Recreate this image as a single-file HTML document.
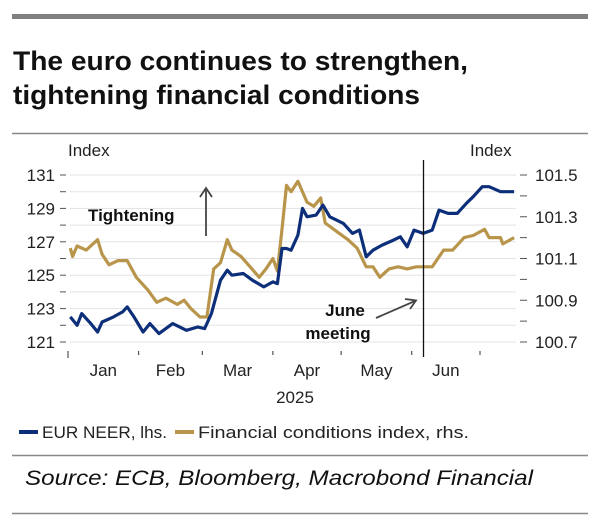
<!DOCTYPE html>
<html><head><meta charset="utf-8"><style>
html,body{margin:0;padding:0;background:#fff;}
svg{display:block;font-family:"Liberation Sans",sans-serif;}
</style></head><body>
<svg id="c" width="600" height="527" viewBox="0 0 600 527">
<rect x="12" y="14" width="576" height="5" fill="#808080"/>
<text x="13" y="70" font-size="27" font-weight="bold" fill="#111" textLength="455" lengthAdjust="spacingAndGlyphs">The euro continues to strengthen,</text>
<text x="13" y="104" font-size="27" font-weight="bold" fill="#111" textLength="407" lengthAdjust="spacingAndGlyphs">tightening financial conditions</text>
<line x1="12" y1="133.5" x2="588" y2="133.5" stroke="#888" stroke-width="1.5"/>
<text x="68" y="156" font-size="17" fill="#222">Index</text>
<text x="470" y="156" font-size="17" fill="#222">Index</text>
<g id="grid"></g><g id="axes"></g><g id="series"></g>
<line x1="423.5" y1="160" x2="423.5" y2="357" stroke="#111" stroke-width="1.3"/>
<text x="88" y="221" font-size="17" font-weight="bold" fill="#111">Tightening</text>
<line x1="206" y1="236" x2="206" y2="190" stroke="#444" stroke-width="1.8"/>
<path d="M200,197 L206,188 L212,197" fill="none" stroke="#444" stroke-width="1.8"/>
<text x="345" y="316" font-size="17" font-weight="bold" fill="#111" text-anchor="middle">June</text>
<text x="338" y="339" font-size="17" font-weight="bold" fill="#111" text-anchor="middle">meeting</text>
<line x1="376" y1="318" x2="415" y2="301" stroke="#444" stroke-width="1.8"/>
<path d="M405,299 L416,300.5 L410,309" fill="none" stroke="#444" stroke-width="1.8"/>
<text x="295" y="403" font-size="17" fill="#222" text-anchor="middle">2025</text>
<rect x="19" y="430" width="19" height="4" fill="#0d2f7a"/>
<text x="42" y="438" font-size="17" fill="#222" textLength="125" lengthAdjust="spacingAndGlyphs">EUR NEER, lhs.</text>
<rect x="175" y="430" width="19" height="4" fill="#b8954a"/>
<text x="198" y="438" font-size="17" fill="#222" textLength="271" lengthAdjust="spacingAndGlyphs">Financial conditions index, rhs.</text>
<line x1="12" y1="455.5" x2="588" y2="455.5" stroke="#888" stroke-width="1.5"/>
<text x="25" y="485" font-size="21" font-style="italic" fill="#111" textLength="508" lengthAdjust="spacingAndGlyphs">Source: ECB, Bloomberg, Macrobond Financial</text>
<line x1="12" y1="513.5" x2="588" y2="513.5" stroke="#888" stroke-width="1.5"/>
</svg>
<script>
const months = ["Jan","Feb","Mar","Apr","May","Jun"];
const monthStartDays = [0,31,59,90,120,151,181];
const leftTicks = [121,123,125,127,129,131];
const rightTicks = [100.7,100.9,101.1,101.3,101.5];
const neerDays = [1,4,6,10,13,15,20,24,26,29,33,36,40,46,52,57,60,63,67,70,72,77,81,86,90,92,94,96,98,101,103,105,109,112,115,121,125,128,131,134,138,143,146,149,152,156,160,163,167,171,175,178,182,185,190,196];
const neerValues = [122.5,122.0,122.7,122.1,121.6,122.2,122.5,122.8,123.1,122.5,121.6,122.1,121.5,122.1,121.7,121.9,121.8,122.7,124.7,125.3,125.0,125.1,124.7,124.3,124.6,124.5,126.6,126.6,126.5,127.4,129.0,128.5,128.6,129.2,128.5,128.1,127.5,127.7,126.1,126.5,126.8,127.1,127.3,126.7,127.7,127.5,127.7,128.9,128.7,128.7,129.3,129.7,130.3,130.3,130.0,130.0];
const fciDays = [1,2,4,8,13,15,18,22,26,30,35,39,43,48,51,54,58,61,64,67,70,72,76,80,84,87,90,92,94,96,98,101,105,108,111,113,118,123,127,131,134,137,141,145,149,153,158,160,165,169,174,178,183,185,190,191,196];
const fciValues = [101.15,101.11,101.16,101.14,101.19,101.12,101.07,101.09,101.09,101.01,100.95,100.89,100.91,100.88,100.90,100.86,100.82,100.82,101.05,101.08,101.19,101.14,101.11,101.06,101.01,101.05,101.10,101.04,101.24,101.45,101.42,101.47,101.37,101.35,101.39,101.27,101.23,101.19,101.15,101.06,101.06,101.01,101.05,101.06,101.05,101.06,101.06,101.06,101.14,101.14,101.20,101.21,101.24,101.20,101.20,101.17,101.20];

const NS="http://www.w3.org/2000/svg";
const X0=68, X1=480, Y0=175, Y1=342;
const xs = d => X0 + d*(X1-X0)/181;
const yL = v => Y0 + (131-v)*(Y1-Y0)/10;
const yR = v => Y0 + (101.5-v)*(Y1-Y0)/0.8;
function mk(tag, attrs, parent, txt){const e=document.createElementNS(NS,tag);for(const k in attrs)e.setAttribute(k,attrs[k]);if(txt!==undefined)e.textContent=txt;parent.appendChild(e);return e;}
const grid=document.getElementById('grid'), axes=document.getElementById('axes'), series=document.getElementById('series');
for(let v=121; v<=131; v++){
  const g=mk('line',{x1:70,x2:516,y1:yL(v),y2:yL(v),stroke:'#e3e3e3','stroke-width':1},grid);
  
  
  mk('line',{x1:60,x2:66,y1:yL(v),y2:yL(v),stroke:'#555','stroke-width':1},axes);
}
leftTicks.forEach(v=>{
  const t=mk('text',{x:55,y:yL(v)+6,'font-size':17,fill:'#222','text-anchor':'end'},axes,String(v));
  
  
});
for(let i=0;i<=8;i++){const v=100.7+i*0.1;mk('line',{x1:520,x2:527,y1:yR(v),y2:yR(v),stroke:'#555','stroke-width':1},axes);}
rightTicks.forEach(v=>{
  const t=mk('text',{x:535,y:yR(v)+6,'font-size':17,fill:'#222'},axes,v.toFixed(1));
  
  
});
monthStartDays.forEach((d,i)=>{mk('line',{x1:xs(d),x2:xs(d),y1:351,y2:i==0?358:355,stroke:'#555','stroke-width':1.2},axes);});
months.forEach((m,i)=>{
  const c=(xs(monthStartDays[i])+xs(monthStartDays[i+1]))/2;
  const t=mk('text',{x:c,y:376,'font-size':17,fill:'#222','text-anchor':'middle'},axes,m);
  
  
});
const fp=mk('polyline',{points:fciDays.map((d,i)=>xs(d).toFixed(1)+','+yR(fciValues[i]).toFixed(1)).join(' '),fill:'none',stroke:'#b8954a','stroke-width':3.2,'stroke-linejoin':'round'},series);


const np=mk('polyline',{points:neerDays.map((d,i)=>xs(d).toFixed(1)+','+yL(neerValues[i]).toFixed(1)).join(' '),fill:'none',stroke:'#0d2f7a','stroke-width':3.2,'stroke-linejoin':'round'},series);


</script>
</body></html>
